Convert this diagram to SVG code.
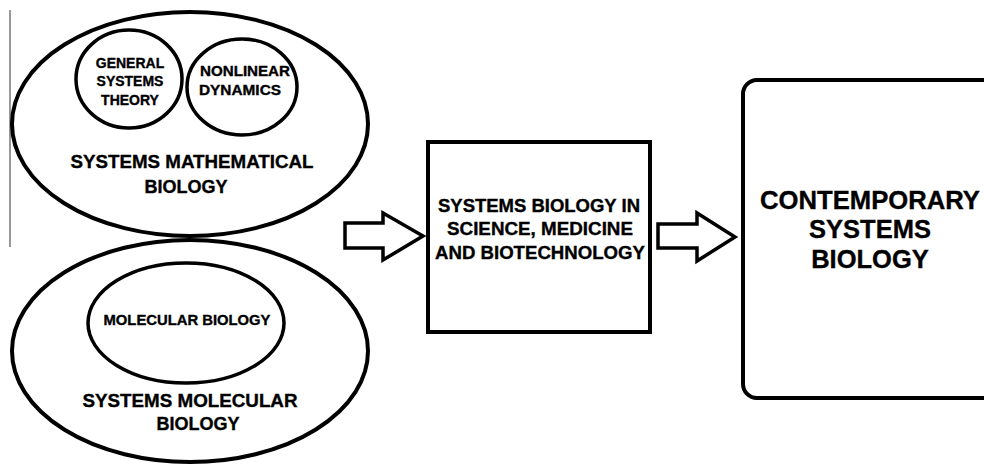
<svg xmlns="http://www.w3.org/2000/svg" width="984" height="464" viewBox="0 0 984 464">
<style>
.s{fill:none;stroke:#000;stroke-width:4}
.c{fill:none;stroke:#000;stroke-width:3.5}
.t{font-family:"Liberation Sans",Arial,sans-serif;font-weight:bold;fill:#000;stroke:#000;stroke-width:0.35;text-anchor:middle;dominant-baseline:central}
.a{fill:#fff;stroke:#000;stroke-width:3.5;stroke-linejoin:miter}
</style>
<rect width="984" height="464" fill="#fff"/>
<line x1="10" y1="10" x2="10" y2="247" stroke="#777" stroke-width="1.5"/>
<g id="math">
<ellipse class="s" cx="190" cy="124" rx="178" ry="112"/>
<text class="t" font-size="18" x="192" y="162" textLength="243" lengthAdjust="spacingAndGlyphs">SYSTEMS MATHEMATICAL</text>
<text class="t" font-size="18" x="186" y="187">BIOLOGY</text>
</g>
<g id="gst">
<ellipse class="c" cx="129" cy="79" rx="53" ry="49"/>
<text class="t" font-size="14" x="130" y="63">GENERAL</text>
<text class="t" font-size="14" x="130" y="81">SYSTEMS</text>
<text class="t" font-size="14" x="130" y="100">THEORY</text>
</g>
<g id="nd">
<ellipse class="c" cx="242" cy="87" rx="55" ry="48"/>
<text class="t" font-size="14" x="245" y="71" textLength="90" lengthAdjust="spacingAndGlyphs">NONLINEAR</text>
<text class="t" font-size="14" x="240" y="90" textLength="82" lengthAdjust="spacingAndGlyphs">DYNAMICS</text>
</g>
<g id="mol">
<ellipse class="s" cx="190" cy="351" rx="178" ry="111"/>
<text class="t" font-size="18" x="190" y="401" textLength="215" lengthAdjust="spacingAndGlyphs">SYSTEMS MOLECULAR</text>
<text class="t" font-size="18" x="198" y="424">BIOLOGY</text>
</g>
<g id="molbio">
<ellipse class="c" cx="186" cy="323" rx="98" ry="60"/>
<text class="t" font-size="14" x="187" y="320" textLength="167" lengthAdjust="spacingAndGlyphs">MOLECULAR BIOLOGY</text>
</g>
<g id="sbsmb">
<rect class="s" x="428" y="142" width="222" height="190"/>
<text class="t" font-size="17.5" x="539" y="206" textLength="202" lengthAdjust="spacingAndGlyphs">SYSTEMS BIOLOGY IN</text>
<text class="t" font-size="17.5" x="540" y="229" textLength="186" lengthAdjust="spacingAndGlyphs">SCIENCE, MEDICINE</text>
<text class="t" font-size="17.5" x="540" y="253" textLength="210" lengthAdjust="spacingAndGlyphs">AND BIOTECHNOLOGY</text>
</g>
<g id="csb">
<rect class="s" x="743" y="80" width="262" height="318" rx="14"/>
<text class="t" font-size="25.5" x="870" y="200" textLength="220" lengthAdjust="spacingAndGlyphs">CONTEMPORARY</text>
<text class="t" font-size="25.5" x="870" y="229">SYSTEMS</text>
<text class="t" font-size="25.5" x="870" y="259">BIOLOGY</text>
</g>
<g id="connectors">
<polygon class="a" points="345,223 383,223 383,213 423,236 383,260 383,248 345,248"/>
<polygon class="a" points="658,224 697,224 697,213 735,237 697,261 697,248 658,248"/>
</g>
</svg>
